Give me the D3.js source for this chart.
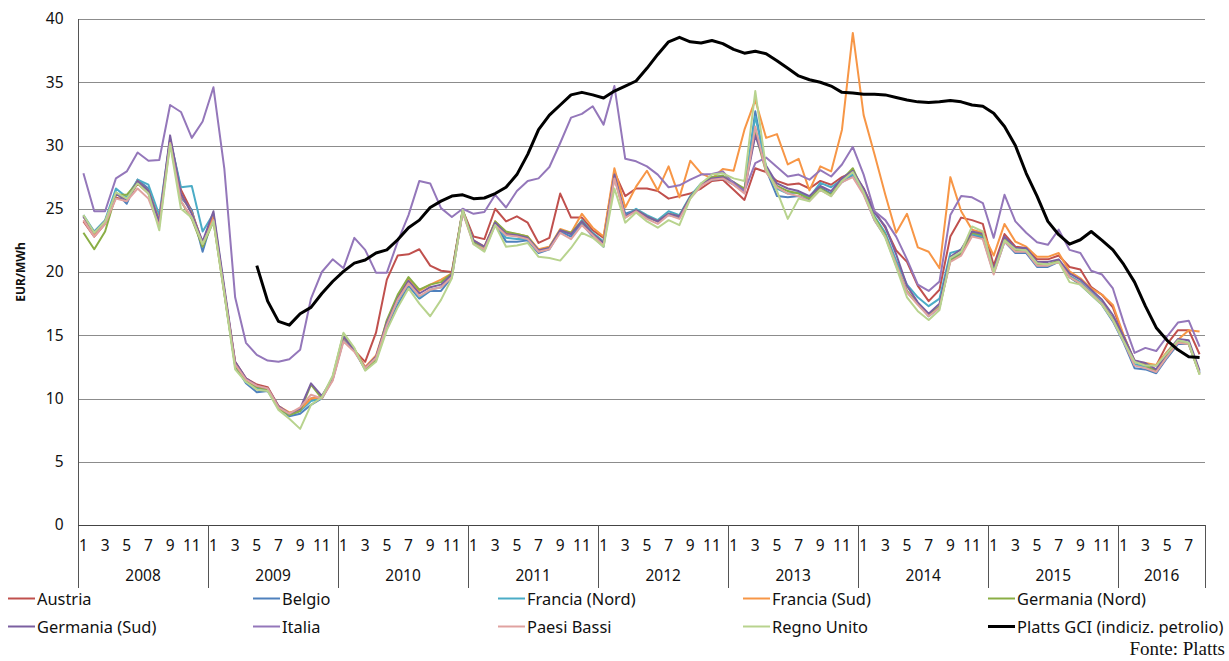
<!DOCTYPE html>
<html>
<head>
<meta charset="utf-8">
<script src="https://cdn.jsdelivr.net/npm/d3@7"></script>
<style>
  body { margin: 0; background: #fff; }
  text { font-family: "Noto Sans", "DejaVu Sans", sans-serif; fill: #111; }
</style>
</head>
<body>
<div id="chart"></div>
<script>
// categories
var years = ["2008", "2009", "2010", "2011", "2012", "2013", "2014", "2015", "2016"];
var monthsInYear = [12, 12, 12, 12, 12, 12, 12, 12, 8];
var yTicks = [0, 5, 10, 15, 20, 25, 30, 35, 40];

// EUR/MWh, monthly from Jan 2008 to Aug 2016
var austria = [24.0,22.8,23.8,25.9,25.6,27.0,26.2,23.9,30.5,26.5,24.8,22.2,
  24.2,18.5,12.9,11.6,11.1,10.9,9.4,8.8,9.2,10.0,10.1,11.5,
  14.7,13.8,12.9,15.2,19.4,21.3,21.4,21.8,20.5,20.1,20.0,24.9,
  22.8,22.6,25.0,24.0,24.4,23.9,22.3,22.7,26.2,24.3,24.3,23.3,
  22.7,27.9,26.0,26.6,26.6,26.4,25.8,26.0,26.2,26.6,27.2,27.3,
  26.5,25.7,28.2,27.9,27.2,26.9,27.0,26.6,27.2,26.9,27.5,27.9,
  26.6,24.8,23.5,21.7,20.8,18.9,17.7,18.6,22.8,24.3,24.1,23.8,
  20.5,23.0,22.0,21.9,21.0,21.0,21.3,20.4,20.2,18.8,18.2,17.2,
  14.9,13.0,12.7,12.6,14.3,15.4,15.4,13.5];
var belgio = [24.4,23.0,24.0,26.3,25.4,27.3,26.6,24.0,30.4,25.9,24.9,21.6,
  24.5,18.4,12.6,11.2,10.5,10.6,9.3,8.6,8.8,9.5,10.0,11.6,
  14.8,13.8,12.3,13.0,15.6,17.4,18.9,17.9,18.5,18.5,19.6,24.8,
  22.3,21.7,23.8,22.4,22.4,22.5,21.5,21.8,23.2,22.8,23.8,22.8,
  22.0,27.5,24.6,24.9,24.3,24.0,24.5,24.3,25.9,26.9,27.3,27.4,
  26.9,26.3,32.7,28.1,26.0,25.9,26.0,25.7,26.7,26.2,27.1,27.6,
  26.2,24.1,22.8,20.5,18.4,17.5,16.5,17.2,21.0,21.5,22.9,22.7,
  19.9,22.4,21.5,21.5,20.4,20.4,20.8,19.6,19.0,18.2,17.4,16.1,
  14.4,12.4,12.3,12.0,13.2,14.3,14.3,12.0];
var franciaNord = [24.5,23.2,24.1,26.6,25.9,27.3,26.9,24.5,30.5,26.7,26.8,23.2,
  24.6,18.6,12.7,11.3,10.8,10.7,9.3,8.7,9.0,9.8,10.0,11.5,
  14.6,13.9,12.4,13.2,15.9,17.7,19.1,18.0,18.6,18.8,19.7,24.8,
  22.3,21.8,23.9,22.7,22.6,22.6,21.6,22.0,23.3,23.0,24.1,23.1,
  22.4,27.8,24.4,25.0,24.5,24.1,24.8,24.5,26.0,27.0,27.5,27.6,
  27.0,26.5,32.3,28.3,26.6,26.2,26.3,25.9,27.05,26.7,27.3,27.7,
  26.4,24.4,23.1,20.9,19.0,18.0,17.3,17.9,21.5,21.75,23.0,22.8,
  20.1,22.6,21.7,21.7,20.6,20.6,20.9,19.7,19.2,18.4,17.6,16.3,
  14.6,12.7,12.5,12.2,13.4,14.5,14.4,12.1];
var franciaSud = [24.4,23.0,24.0,26.2,25.7,27.2,26.4,24.1,30.4,26.1,24.7,22.3,
  24.4,18.5,12.8,11.5,11.0,10.8,9.4,8.9,9.1,10.0,10.1,11.6,
  14.8,13.9,12.5,13.4,16.1,18.0,19.5,18.5,19.0,19.4,19.9,24.8,
  22.5,22.0,24.0,23.1,23.0,22.8,21.8,22.0,23.4,23.1,24.6,23.5,
  22.8,28.2,25.1,26.75,28.0,26.45,28.35,25.9,28.8,27.8,27.4,28.15,
  28.0,31.25,33.6,30.6,30.9,28.5,28.95,26.45,28.35,27.95,31.25,38.9,
  32.4,29.3,26.1,23.1,24.6,21.95,21.6,20.3,27.5,24.8,23.35,23.1,
  21.3,23.8,22.4,22.0,21.2,21.2,21.5,20.05,19.5,18.7,18.2,17.4,
  15.0,12.9,12.8,12.65,13.7,14.65,15.4,15.3];
var germaniaNord = [23.1,21.8,23.2,26.1,26.1,27.1,26.4,23.8,30.3,25.6,24.2,22.0,
  24.0,18.3,12.6,11.4,10.9,10.7,9.2,8.7,9.0,11.1,10.0,11.7,
  15.1,13.9,12.3,13.1,16.2,18.2,19.6,18.6,19.0,19.2,19.9,24.9,
  22.4,21.9,24.0,23.2,23.0,22.8,21.7,21.9,23.3,23.1,24.0,23.0,
  22.3,27.5,24.3,24.9,24.4,24.0,24.6,24.4,25.9,26.9,27.5,27.6,
  27.1,26.6,31.0,27.9,26.8,26.4,26.2,25.8,26.6,26.1,27.3,28.2,
  26.3,24.3,22.9,20.6,18.5,17.5,16.6,17.3,20.9,21.4,23.1,22.9,
  20.0,22.6,21.7,21.7,20.6,20.6,20.9,19.6,19.1,18.3,17.5,16.3,
  14.6,12.9,12.6,12.2,13.4,14.5,14.3,11.9];
var germaniaSud = [24.4,23.1,24.0,26.2,25.7,27.2,26.4,24.0,30.8,26.2,24.6,22.4,
  24.8,18.8,12.9,11.6,11.0,10.8,9.4,8.8,9.2,11.2,10.2,11.6,
  14.9,13.8,12.4,13.3,16.0,17.9,19.3,18.3,18.8,19.0,19.8,24.8,
  22.5,22.0,23.9,23.0,22.9,22.7,21.7,21.9,23.3,23.0,24.0,23.0,
  22.3,27.7,24.4,24.9,24.4,24.0,24.6,24.4,25.9,26.9,27.4,27.5,
  27.1,26.4,30.8,28.4,27.0,26.6,26.4,26.0,26.8,26.4,27.4,28.0,
  26.6,24.7,23.6,21.4,18.9,17.6,16.7,17.5,21.2,21.8,23.2,23.0,
  20.2,22.8,21.9,21.9,20.8,20.8,21.0,19.9,19.4,18.6,17.8,16.6,
  14.9,13.0,12.8,12.3,13.6,14.7,14.6,12.2];
var italia = [27.8,24.8,24.8,27.4,27.95,29.45,28.8,28.85,33.2,32.65,30.6,31.9,
  34.6,28.2,18.0,14.4,13.45,13.0,12.9,13.1,13.85,17.9,20.0,21.0,
  20.3,22.7,21.75,19.95,19.95,22.4,24.5,27.2,27.0,25.05,24.35,25.0,
  24.6,24.75,26.1,25.1,26.4,27.2,27.4,28.3,30.2,32.2,32.5,33.1,
  31.65,34.7,28.95,28.75,28.35,27.7,26.7,26.85,27.3,27.7,27.75,27.95,
  27.0,26.4,28.6,29.05,28.3,27.55,27.7,27.3,28.05,27.55,28.5,29.9,
  27.7,24.8,24.1,22.8,21.0,19.0,18.5,19.25,24.5,26.0,25.9,25.45,
  22.7,26.1,24.0,23.1,22.35,22.15,23.35,21.75,21.5,20.1,19.8,18.7,
  16.0,13.6,14.0,13.75,14.9,16.0,16.15,14.1];
var paesiBassi = [24.1,22.8,23.8,25.8,25.6,26.6,25.8,23.6,30.2,25.6,24.3,22.2,
  24.1,18.4,12.7,11.5,11.0,10.8,9.3,8.8,9.3,10.3,10.0,11.4,
  14.5,13.7,12.4,13.2,15.8,17.8,19.1,18.1,18.6,18.8,19.6,24.7,
  22.2,21.8,23.7,22.9,22.8,22.6,21.6,21.8,23.1,22.6,23.7,22.9,
  22.1,27.4,24.3,24.8,24.2,23.8,24.5,24.2,25.8,26.8,27.3,27.4,
  26.9,26.2,31.5,27.9,26.7,26.2,26.0,25.6,26.5,26.0,27.1,27.5,
  26.1,24.1,22.8,20.6,18.4,17.4,16.5,17.2,20.8,21.3,22.8,22.6,
  19.8,22.4,21.6,21.6,20.5,20.5,20.8,19.6,19.1,18.3,17.5,16.2,
  14.5,12.6,12.4,12.1,13.3,14.4,14.3,12.0];
var regnoUnito = [24.5,23.1,24.0,26.3,25.8,27.0,26.2,23.3,30.1,25.0,24.3,22.2,
  24.0,18.3,12.3,11.3,10.7,10.6,9.1,8.4,7.6,9.5,10.1,11.8,
  15.2,14.0,12.2,12.9,15.4,17.2,18.7,17.5,16.5,17.8,19.5,24.9,
  22.2,21.6,23.7,22.0,22.1,22.3,21.2,21.1,20.9,21.9,23.1,22.7,
  22.0,26.6,23.9,24.7,24.0,23.5,24.1,23.7,25.8,27.0,27.7,27.8,
  27.4,27.2,34.3,28.2,26.4,24.2,25.8,25.6,26.5,26.0,27.2,27.9,
  26.3,24.2,22.7,20.4,18.0,16.9,16.2,17.0,21.1,21.6,23.6,23.2,
  20.0,22.5,21.8,21.7,20.7,20.6,20.8,19.2,19.0,18.2,17.4,16.2,
  14.5,12.9,12.6,12.6,13.6,14.6,14.4,11.9];
var platts = [null,null,null,null,null,null,null,null,null,null,null,null,
  null,null,null,null,20.5,17.7,16.1,15.8,16.7,17.2,18.3,19.25,
  20.05,20.7,20.95,21.5,21.75,22.55,23.5,24.1,25.1,25.6,26.0,26.1,
  25.8,25.85,26.2,26.7,27.7,29.3,31.25,32.4,33.2,34.0,34.2,34.0,
  33.75,34.3,34.7,35.1,36.1,37.2,38.2,38.55,38.2,38.1,38.3,38.05,
  37.6,37.3,37.45,37.25,36.7,36.1,35.5,35.2,35.0,34.7,34.2,34.15,
  34.05,34.05,34.0,33.8,33.6,33.45,33.4,33.45,33.55,33.45,33.2,33.1,
  32.55,31.5,30.0,27.8,26.0,24.0,22.95,22.2,22.55,23.2,22.5,21.75,
  20.6,19.2,17.3,15.6,14.6,13.85,13.3,13.25];

var seriesNames = ["Austria", "Belgio", "Francia (Nord)", "Francia (Sud)", "Germania (Nord)",
  "Germania (Sud)", "Italia", "Paesi Bassi", "Regno Unito", "Platts GCI (indiciz. petrolio)"];
var seriesValues = [austria, belgio, franciaNord, franciaSud, germaniaNord,
  germaniaSud, italia, paesiBassi, regnoUnito, platts];
var seriesColors = ["#C0504D", "#4F81BD", "#4BACC6", "#F79646", "#8AAE45",
  "#7B5FA0", "#9477BA", "#E0A2A0", "#B8D38E", "#000000"];

var svgWidth = 1229;
var svgHeight = 661;
var plot = { left: 78, right: 1205, top: 19, bottom: 525 };

var svg = d3.select("#chart")
  .append("svg")
  .attr("width", svgWidth)
  .attr("height", svgHeight)
  .style("background", "#fff");

// month categories built from the year list
var categories = [];
years.forEach(function (yr, yi) {
  for (var m = 1; m <= monthsInYear[yi]; m++) {
    categories.push({ year: yr, month: m });
  }
});

var x = d3.scaleBand()
  .domain(d3.range(categories.length))
  .range([plot.left, plot.right])
  .padding(0);

var y = d3.scaleLinear()
  .domain([0, 40])
  .range([plot.bottom, plot.top]);

function cx(i) { return x(i) + x.bandwidth() / 2; }

// gridlines
svg.append("g")
  .selectAll("line")
  .data(yTicks.filter(function (d) { return d > 0; }))
  .enter()
  .append("line")
  .attr("x1", plot.left)
  .attr("x2", plot.right)
  .attr("y1", function (d) { return Math.round(y(d)) + 0.5; })
  .attr("y2", function (d) { return Math.round(y(d)) + 0.5; })
  .attr("stroke", "#8c8c8c")
  .attr("stroke-width", 1);

// y axis (labels only, no tick marks)
var yAxis = svg.append("g")
  .attr("transform", "translate(" + (plot.left + 0.5) + ",0)")
  .call(d3.axisLeft(y).tickValues(yTicks).tickSize(0).tickPadding(15));
yAxis.select(".domain").remove();
yAxis.selectAll(".tick text")
  .style("font-size", "15.5px")
  .style("font-family", "'Noto Sans', sans-serif")
  .attr("fill", "#111");

// axis lines
svg.append("line")
  .attr("x1", plot.left + 0.5).attr("x2", plot.left + 0.5)
  .attr("y1", plot.top).attr("y2", 588)
  .attr("stroke", "#555");
svg.append("line")
  .attr("x1", plot.left).attr("x2", plot.right)
  .attr("y1", plot.bottom + 0.5).attr("y2", plot.bottom + 0.5)
  .attr("stroke", "#444");

// month labels (odd months)
svg.append("g")
  .selectAll("text")
  .data(categories.map(function (c, i) { return { c: c, i: i }; })
    .filter(function (d) { return d.c.month % 2 === 1; }))
  .enter()
  .append("text")
  .attr("x", function (d) { return cx(d.i); })
  .attr("y", 551)
  .attr("text-anchor", "middle")
  .style("font-size", "15.5px")
  .text(function (d) { return d.c.month; });

// year labels and separators
var start = 0;
var yearBlocks = years.map(function (yr, yi) {
  var b = { year: yr, first: start, last: start + monthsInYear[yi] - 1 };
  start += monthsInYear[yi];
  return b;
});

svg.append("g")
  .selectAll("line")
  .data(yearBlocks)
  .enter()
  .append("line")
  .attr("x1", function (d) { return Math.round(x(d.last) + x.bandwidth()) + 0.5; })
  .attr("x2", function (d) { return Math.round(x(d.last) + x.bandwidth()) + 0.5; })
  .attr("y1", plot.bottom)
  .attr("y2", 588)
  .attr("stroke", "#555");

svg.append("g")
  .selectAll("text")
  .data(yearBlocks)
  .enter()
  .append("text")
  .attr("x", function (d) { return (x(d.first) + x(d.last) + x.bandwidth()) / 2; })
  .attr("y", 581)
  .attr("text-anchor", "middle")
  .style("font-size", "15.5px")
  .text(function (d) { return d.year; });

// y axis title
svg.append("text")
  .attr("transform", "translate(25," + ((plot.top + plot.bottom) / 2) + ") rotate(-90)")
  .attr("text-anchor", "middle")
  .style("font-size", "12px")
  .style("font-weight", "bold")
  .text("EUR/MWh");

// lines
var line = d3.line()
  .defined(function (d) { return d != null; })
  .x(function (d, i) { return cx(i); })
  .y(function (d) { return y(d); });

svg.append("g")
  .selectAll("path")
  .data(seriesValues)
  .enter()
  .append("path")
  .attr("d", function (d) { return line(d); })
  .attr("fill", "none")
  .attr("stroke", function (d, i) { return seriesColors[i]; })
  .attr("stroke-width", function (d, i) { return i === 9 ? 3 : 2; })
  .attr("stroke-linejoin", "round");

// legend
var legend = svg.append("g")
  .selectAll("g")
  .data(seriesNames)
  .enter()
  .append("g")
  .attr("transform", function (d, i) {
    return "translate(" + (8 + (i % 5) * 245) + "," + (598.5 + Math.floor(i / 5) * 28) + ")";
  });

legend.append("line")
  .attr("x1", 0).attr("x2", 27)
  .attr("y1", 0).attr("y2", 0)
  .attr("stroke", function (d, i) { return seriesColors[i]; })
  .attr("stroke-width", function (d, i) { return i === 9 ? 3 : 2; });

legend.append("text")
  .attr("x", 29)
  .attr("y", 6)
  .style("font-size", "16.4px")
  .text(function (d) { return d; });

svg.append("text")
  .attr("x", 1225)
  .attr("y", 655)
  .attr("text-anchor", "end")
  .style("font-family", "'Liberation Serif', serif")
  .style("font-size", "19px")
  .text("Fonte: Platts");
</script>
</body>
</html>
